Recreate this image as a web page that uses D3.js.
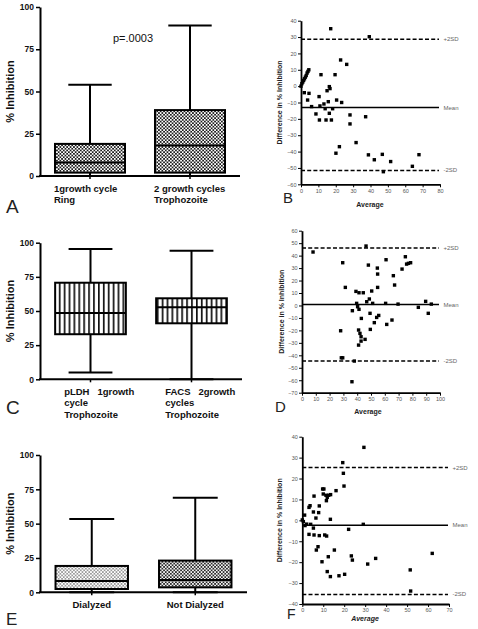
<!DOCTYPE html>
<html><head><meta charset="utf-8">
<script src="https://cdn.jsdelivr.net/npm/d3@7"></script>
<style>body{margin:0;background:#fff}svg{display:block;font-family:"Liberation Sans",Arial,sans-serif}</style>
</head><body>
<svg id="c" width="478" height="629"></svg>
<script>
// ---------- DATA ----------
const boxTicks = [0, 25, 50, 75, 100];

const catsA = ["1growth cycle|Ring", "2 growth cycles|Trophozoite"];
const minA = [0, 0], q1A = [2, 2], medA = [8, 18], q3A = [19, 39], maxA = [54, 89];

const catsC = ["pLDH   1growth|cycle|Trophozoite", "FACS   2growth|cycles|Trophozoite"];
const minC = [5, 0], q1C = [33, 41], medC = [48.5, 52.7], q3C = [70.7, 59.3], maxC = [95.4, 94.1];

const catsE = ["Dialyzed", "Not Dialyzed"];
const minE = [0, 0], q1E = [2.4, 3.6], medE = [8.3, 9], q3E = [19.2, 23.1], maxE = [53.4, 68.9];

// Bland-Altman B
const bX = [0,0.5,1,1.5,2,2.5,3,3.5,4,4.5,17.1,39.3,1.9,4.6,3.8,6.1,8.6,10.4,10.6,10.9,11.5,13.2,13.9,14.4,15,15.7,16.3,16.7,16.3,17.5,18.2,19.6,20.1,20.5,22.1,22.8,23.4,26.3,28.2,28.2,31.7,37.2,38.8,42.2,46.8,47.4,51.6,64.1,67.9];
const bY = [0,1.5,2.5,3.5,4.5,5.5,6.5,8,9,10,35.1,30.2,-4,-4.4,-8.5,-12.5,-17,-6.4,-20.7,-12.1,7,-10.9,-13.8,-20.7,-2.8,-9.5,-0.3,-1.5,-16.6,-20.7,-13.8,7,-41,-8.5,-37,16,-10,13.3,-17.6,-23.1,-34.5,-18.7,-42,-45,-41.7,-52.3,-46.1,-49,-41.9];
const bTicksX = [0,10,20,30,40,50,60,70,80];
const bTicksY = [-60,-50,-40,-30,-20,-10,0,10,20,30,40];
const bLines = [28.6, -13, -51.5];

// Bland-Altman D
const dX = [8,29.5,31.4,28,28.5,29.5,36.5,37.9,36.2,39.1,39.6,40.3,41.3,41.3,41,41,42,42.8,42.8,43,44.4,45.7,46.4,46.9,48.1,48.8,49.3,49.5,50.5,51.2,52.4,54.1,54.6,54.8,54.8,55.6,60.9,60.6,61.4,65.2,66.2,67.1,69.6,72.5,74.9,75.8,77.1,78.7,84.3,89.6,91.5,93.7];
const dY = [42.9,34.3,14.5,-20.3,-42,-42,-4.2,-44.6,-61.2,11.3,1.7,-1,10.2,-3.1,-19.7,-31.8,-22.4,-25.1,-28.6,-10.4,10.2,-27.2,47.7,3,32.4,5.2,-6.3,-19.2,11.6,1.7,-13.8,-9.6,30,25.2,14.5,-8,36.7,1.7,-15.2,-11.7,23.9,16.4,1.1,29.2,39.1,33.2,33.8,34.3,-1.5,3.3,-6.3,1.1];
const dTicksX = [0,10,20,30,40,50,60,70,80,90,100];
const dTicksY = [-70,-60,-50,-40,-30,-20,-10,0,10,20,30,40,50,60];
const dLines = [46.1, 0.8, -44.6];

// Bland-Altman F
const fX = [29.4,19.3,19.6,19.9,16.1,9.7,10.3,10,11.3,11.9,12.6,13.5,11.5,5.6,3.2,3.7,8.1,5.3,7.8,6.5,13.4,1.1,0,0.5,1.3,2.1,4,5.3,3.2,5.6,8.1,10.7,11.6,22.1,29.1,7.5,6.7,15.3,12.4,23.4,23.9,35,31.2,9.4,11.9,13.4,17.5,20.2,51.5,62,51.7];
const fY = [34.9,27.6,22.5,16.4,14.2,15,15,12.6,12,11,12,12.3,9.4,11.6,6.2,7,6.9,4,3.7,1.1,0.5,2.5,0.2,-0.6,-2.5,-1.8,-1.9,-3.7,-6.7,-7,-7.3,-7,-7.5,-4.3,-1.9,-12.6,-14.2,-14.2,-17.4,-17,-19,-18.2,-20.9,-19.8,-24.5,-26.9,-26.5,-25.8,-23.7,-15.8,-33.8];
const fTicksX = [0,10,20,30,40,50,60,70];
const fTicksY = [-40,-30,-20,-10,0,10,20,30,40];
const fLines = [25.3, -2.4, -35.4];

const lineLabels = ["+2SD", "Mean", "-2SD"];

// ---------- DRAW ----------
const svg = d3.select("#c");
const defs = svg.append("defs");
function checker(id, bg, fg, s) {
  const p = defs.append("pattern").attr("id", id).attr("patternUnits", "userSpaceOnUse")
    .attr("width", 2*s).attr("height", 2*s);
  p.append("rect").attr("width", 2*s).attr("height", 2*s).attr("fill", bg);
  p.append("rect").attr("width", s).attr("height", s).attr("fill", fg);
  p.append("rect").attr("x", s).attr("y", s).attr("width", s).attr("height", s).attr("fill", fg);
}
checker("chkD", "#1c1c1c", "#fff", 1.7);
checker("chkE", "#2a2a2a", "#f4f4f4", 1.7);
checker("chkL", "#fff", "#9a9a9a", 1.7);
{
  const p = defs.append("pattern").attr("id", "vert").attr("patternUnits", "userSpaceOnUse")
    .attr("width", 4.9).attr("height", 10);
  p.append("rect").attr("width", 4.9).attr("height", 10).attr("fill", "#fff");
  p.append("rect").attr("x", 0).attr("width", 1.7).attr("height", 10).attr("fill", "#111");
}

function boxPanel(o) {
  const g = svg.append("g");
  const y = d3.scaleLinear().domain([0, 100]).range([o.yBot, o.yTop]);
  const x = d3.scaleBand().domain(o.cats).range([40, o.xRight]).paddingInner(0.3).paddingOuter(0.15);
  const ya = g.append("g").attr("transform", "translate(40,0)")
    .call(d3.axisLeft(y).tickValues(boxTicks).tickSize(4).tickSizeOuter(0).tickPadding(2));
  ya.select(".domain").attr("stroke-width", 2).attr("stroke", "#000");
  ya.selectAll(".tick line").attr("stroke-width", 1.5);
  ya.selectAll(".tick text").attr("font-size", 8.5).attr("font-weight", "bold").attr("fill", "#111")
    .attr("font-family", "Liberation Sans, Arial, sans-serif");
  const xa = g.append("g").attr("transform", `translate(0,${o.yBot})`)
    .call(d3.axisBottom(x).tickSize(3).tickSizeOuter(0).tickFormat(""));
  xa.select(".domain").attr("stroke-width", 2).attr("stroke", "#000").attr("d", `M39,0H${o.xRight}`);
  xa.selectAll(".tick line").attr("stroke-width", 1.5);
  o.cats.forEach((c, i) => {
    const x0 = x(c), w = x.bandwidth(), cx = x0 + w/2, cap = w * 0.31;
    const ln = (x1, y1, x2, y2) => g.append("line").attr("x1", x1).attr("y1", y1).attr("x2", x2).attr("y2", y2)
      .attr("stroke", "#000").attr("stroke-width", 2);
    ln(cx, y(o.maxs[i]), cx, y(o.q3s[i]));
    ln(cx, y(o.q1s[i]), cx, y(o.mins[i]));
    ln(cx - cap, y(o.maxs[i]), cx + cap, y(o.maxs[i]));
    ln(cx - cap, y(o.mins[i]), cx + cap, y(o.mins[i]));
    g.append("rect").attr("x", x0).attr("y", y(o.q3s[i])).attr("width", w)
      .attr("height", y(o.q1s[i]) - y(o.q3s[i])).attr("fill", `url(#${o.fills[i]})`)
      .attr("stroke", "#000").attr("stroke-width", 2);
    ln(x0, y(o.meds[i]), x0 + w, y(o.meds[i]));
    const lines = c.split("|");
    const t = g.append("text").attr("font-size", 9.5).attr("font-weight", "bold").attr("fill", "#111")
      .attr("text-anchor", o.anchor).attr("y", o.yBot + 15.5);
    lines.forEach((l, k) => t.append("tspan").attr("x", o.anchor === "middle" ? cx : x0 + o.labelDx)
      .attr("dy", k ? 11.5 : 0).attr("xml:space", "preserve").text(l));
  });
  g.append("text").attr("transform", `translate(13.5,${(o.yTop + o.yBot)/2}) rotate(-90)`)
    .attr("text-anchor", "middle").attr("font-size", 11).attr("font-weight", "bold").attr("fill", "#111")
    .text("% Inhibition");
  g.append("text").attr("x", 6).attr("y", o.letterY).attr("font-size", o.letterSize || 19).attr("fill", "#222").text(o.letter);
  return g;
}

const gA = boxPanel({cats: catsA, mins: minA, q1s: q1A, meds: medA, q3s: q3A, maxs: maxA,
  yTop: 7, yBot: 176, xRight: 240, fills: ["chkD", "chkD"], anchor: "start", labelDx: -1, letter: "A", letterY: 213});
gA.append("text").attr("x", 113).attr("y", 42).attr("font-size", 11).attr("fill", "#111").text("p=.0003");
boxPanel({cats: catsC, mins: minC, q1s: q1C, meds: medC, q3s: q3C, maxs: maxC,
  yTop: 242.7, yBot: 379.3, xRight: 242, fills: ["vert", "vert"], anchor: "start", labelDx: 9, letter: "C", letterY: 414});
boxPanel({cats: catsE, mins: minE, q1s: q1E, meds: medE, q3s: q3E, maxs: maxE,
  yTop: 455, yBot: 592.3, xRight: 247, fills: ["chkL", "chkE"], anchor: "middle", labelDx: 0, letter: "E", letterY: 625, letterSize: 17});

function baPanel(o) {
  const g = svg.append("g");
  const x = d3.scaleLinear().domain([0, o.ticksX[o.ticksX.length-1]]).range([o.x0, o.x1]);
  const y = d3.scaleLinear().domain([o.ticksY[0], o.ticksY[o.ticksY.length-1]]).range([o.y0, o.y1]);
  const ya = g.append("g").attr("transform", `translate(${o.x0},0)`)
    .call(d3.axisLeft(y).tickValues(o.ticksY).tickSize(3).tickSizeOuter(0).tickPadding(1.5));
  const xa = g.append("g").attr("transform", `translate(0,${o.y0})`)
    .call(d3.axisBottom(x).tickValues(o.ticksX).tickSize(3).tickSizeOuter(0).tickPadding(1.5));
  [ya, xa].forEach(a => {
    a.select(".domain").attr("stroke-width", 1.8).attr("stroke", "#000");
    a.selectAll(".tick line").attr("stroke-width", 1);
    a.selectAll(".tick text").attr("font-size", 5.5).attr("fill", "#555")
      .attr("font-family", "Liberation Sans, Arial, sans-serif");
  });
  o.lines.forEach((v, i) => {
    g.append("line").attr("x1", o.x0).attr("x2", o.lineEnd).attr("y1", y(v)).attr("y2", y(v))
      .attr("stroke", "#000").attr("stroke-width", 1.5).attr("stroke-dasharray", i === 1 ? null : "4,2.2");
    g.append("text").attr("x", o.lineEnd + 4.5).attr("y", y(v)).attr("dy", "0.35em")
      .attr("font-size", 6).attr("fill", "#666").text(lineLabels[i]);
  });
  g.selectAll("rect.pt").data(o.xs).join("rect").attr("class", "pt")
    .attr("x", (d) => x(d) - 1.7).attr("y", (d, i) => y(o.ys[i]) - 1.7)
    .attr("width", 3.4).attr("height", 3.4).attr("fill", "#000");
  g.append("text").attr("transform", `translate(${o.titleX},${(o.y0 + o.y1)/2}) rotate(-90)`)
    .attr("text-anchor", "middle").attr("font-size", 7).attr("font-weight", "bold").attr("fill", "#222")
    .text("Difference in % Inhibition");
  g.append("text").attr("x", o.avgX).attr("y", o.avgY).attr("text-anchor", "middle")
    .attr("font-size", 7).attr("font-weight", "bold").attr("font-style", o.italic ? "italic" : "normal")
    .attr("fill", "#222").text("Average");
  g.append("text").attr("x", o.letterX).attr("y", o.letterY).attr("font-size", o.letterSize).attr("fill", "#222").text(o.letter);
}

baPanel({xs: bX, ys: bY, ticksX: bTicksX, ticksY: bTicksY, lines: bLines,
  x0: 301, x1: 440, y0: 184.3, y1: 20.7, lineEnd: 439, titleX: 282, avgX: 370, avgY: 206.5,
  letter: "B", letterX: 283, letterY: 203, letterSize: 15});
baPanel({xs: dX, ys: dY, ticksX: dTicksX, ticksY: dTicksY, lines: dLines,
  x0: 302, x1: 440, y0: 392.7, y1: 230.7, lineEnd: 439, titleX: 284, avgX: 368, avgY: 413.5,
  letter: "D", letterX: 275, letterY: 411.5, letterSize: 15});
baPanel({xs: fX, ys: fY, ticksX: fTicksX, ticksY: fTicksY, lines: fLines,
  x0: 302.3, x1: 449, y0: 604, y1: 436.7, lineEnd: 448, titleX: 282, avgX: 365, avgY: 621, italic: true,
  letter: "F", letterX: 287, letterY: 619, letterSize: 14});
</script>
</body></html>
